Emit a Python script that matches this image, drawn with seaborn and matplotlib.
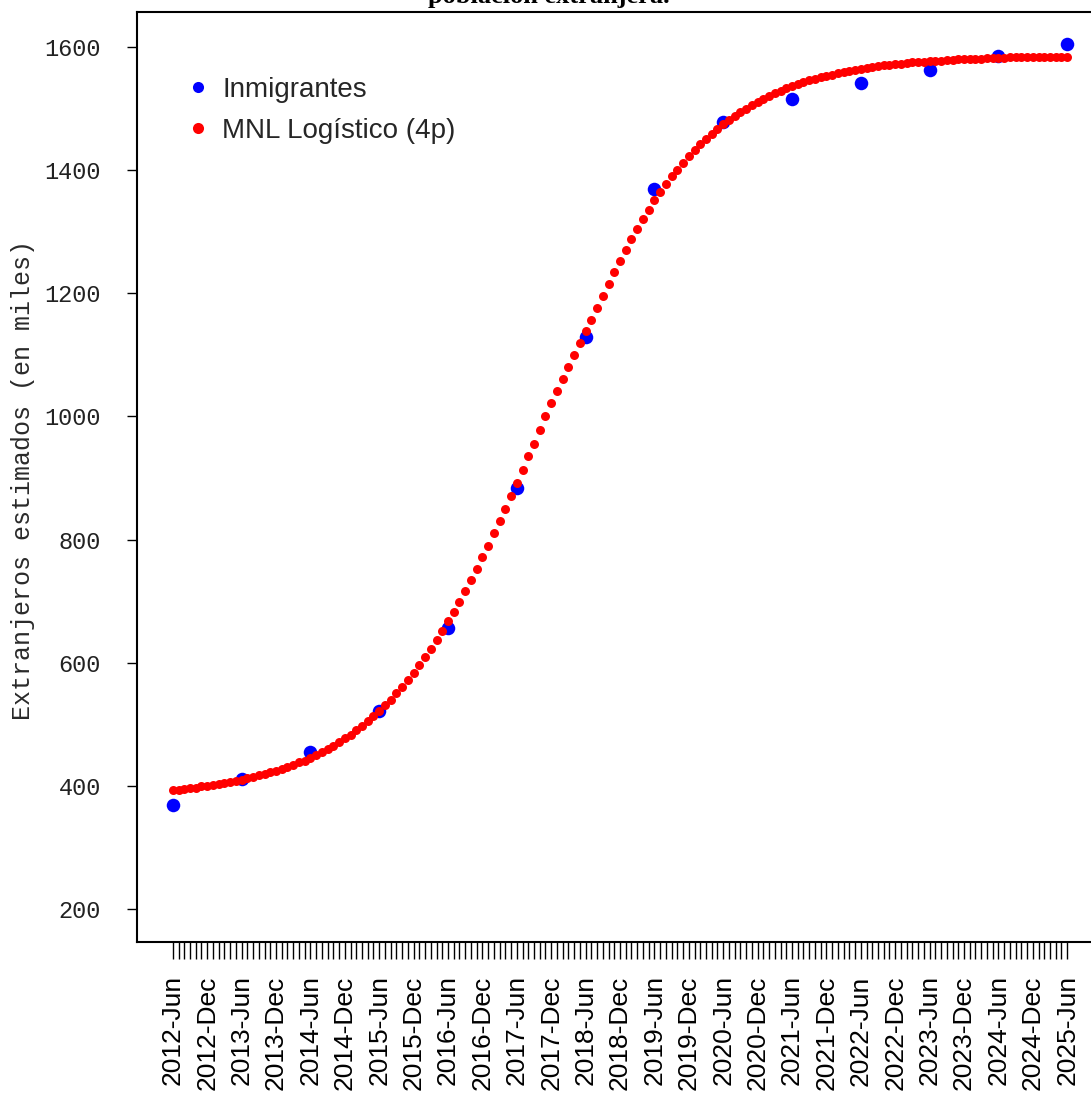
import matplotlib
matplotlib.use("Agg")
import matplotlib.pyplot as plt
from matplotlib.lines import Line2D
import seaborn as sns
import pandas as pd

# Monthly axis: June 2012 .. June 2025 (157 months)
periods = pd.period_range("2012-06", "2025-06", freq="M")
month_labels = [f"{p.year}-{p.strftime('%b')}" for p in periods]
month_idx = list(range(len(periods)))

# Observed foreign population (thousands), one value every June
obs_idx = [0, 12, 24, 36, 48, 60, 72, 84, 96, 108, 120, 132, 144, 156]
inmigrantes = [369, 411, 455, 522, 656, 884, 1129, 1369, 1478, 1516, 1542, 1563, 1585, 1605]

# Fitted 4-parameter logistic curve, monthly values (thousands)
logistico = [
    393, 394, 395, 396, 397, 399, 400, 402, 403, 405, 407, 408, 410,
    412, 414, 417, 419, 422, 424, 427, 431, 434, 438, 441, 446,
    450, 455, 460, 465, 471, 477, 483, 490, 497, 505, 513, 522,
    531, 540, 550, 561, 572, 584, 596, 609, 623, 637, 652, 667,
    683, 699, 717, 734, 752, 771, 790, 810, 830, 850, 871, 892,
    913, 935, 956, 978, 1000, 1021, 1041, 1061, 1080, 1099, 1119, 1138,
    1157, 1176, 1196, 1215, 1234, 1252, 1270, 1288, 1305, 1321, 1336, 1351,
    1365, 1377, 1390, 1401, 1412, 1423, 1432, 1442, 1451, 1459, 1467, 1475,
    1482, 1488, 1495, 1500, 1506, 1511, 1516, 1521, 1525, 1529, 1533, 1536,
    1540, 1543, 1546, 1548, 1551, 1553, 1555, 1558, 1559, 1561, 1563, 1565,
    1566, 1567, 1569, 1570, 1571, 1572, 1573, 1574, 1575, 1575, 1576, 1577,
    1577, 1578, 1579, 1579, 1580, 1580, 1580, 1581, 1581, 1582, 1582, 1582,
    1582, 1583, 1583, 1583, 1583, 1584, 1584, 1584, 1584, 1584, 1584, 1584,
]

obs_df = pd.DataFrame({"mes": obs_idx, "valor": inmigrantes})
fit_df = pd.DataFrame({"mes": month_idx, "valor": logistico})

sns.set_theme(style="white")
plt.rcParams["font.family"] = ["Liberation Sans", "DejaVu Sans"]

W, H = 1091, 1095
fig = plt.figure(figsize=(W / 100, H / 100), dpi=100)
ax = fig.add_axes([137 / W, 1 - 942 / H, 966 / W, 930 / H])

sns.scatterplot(data=obs_df, x="mes", y="valor", ax=ax, color="#0000FF",
                s=95, linewidth=0, zorder=2, legend=False)
sns.scatterplot(data=fit_df, x="mes", y="valor", ax=ax, color="#FF0000",
                s=42, linewidth=0, zorder=3, legend=False)

ax.set_xlim(-6.24, 162.24)
ax.set_ylim(146.4, 1656.8)

# x axis: a tick every month, a label every six months
ax.set_xticks(month_idx)
ax.set_xticklabels([lab if i % 6 == 0 else "" for i, lab in enumerate(month_labels)],
                   rotation=90, fontsize=19, color="black")
ax.tick_params(axis="x", direction="out", length=12, width=1.0, pad=12,
               color="black", bottom=True)

# y axis
yticks = [200, 400, 600, 800, 1000, 1200, 1400, 1600]
ax.set_yticks(yticks)
ax.set_yticklabels([str(v) for v in yticks],
                   family="Liberation Mono", fontsize=17, color="#222222")
ax.tick_params(axis="y", direction="out", length=7, width=1.0, pad=19,
               color="black", left=True)

ax.set_xlabel("")
ax.set_ylabel("Extranjeros estimados (en miles)", family="Liberation Mono",
              fontsize=18, color="#2a2a2a")
ax.yaxis.set_label_coords((35 - 137) / 966, (942 - 480) / 930)

for sp in ax.spines.values():
    sp.set_linewidth(1.5)
    sp.set_color("black")

handles = [
    Line2D([], [], linestyle="none", marker="o", markersize=8,
           markerfacecolor="#0000FF", markeredgewidth=0, label="Inmigrantes"),
    Line2D([], [], linestyle="none", marker="o", markersize=8,
           markerfacecolor="#FF0000", markeredgewidth=0, label="MNL Logístico (4p)"),
]
ax.legend(handles=handles, loc="upper left", frameon=False, fontsize=20,
          bbox_to_anchor=(184 / W, 1 - 77 / H), bbox_transform=fig.transFigure,
          borderpad=0, borderaxespad=0, handlelength=1.0, handletextpad=0.37,
          labelspacing=0.53)

fig.text(549 / W, 1 - 3.5 / H, "población extranjera.", family="Liberation Serif",
         fontweight="bold", fontsize=19, ha="center", va="baseline", color="black")

fig.savefig("out.png", dpi=100)
